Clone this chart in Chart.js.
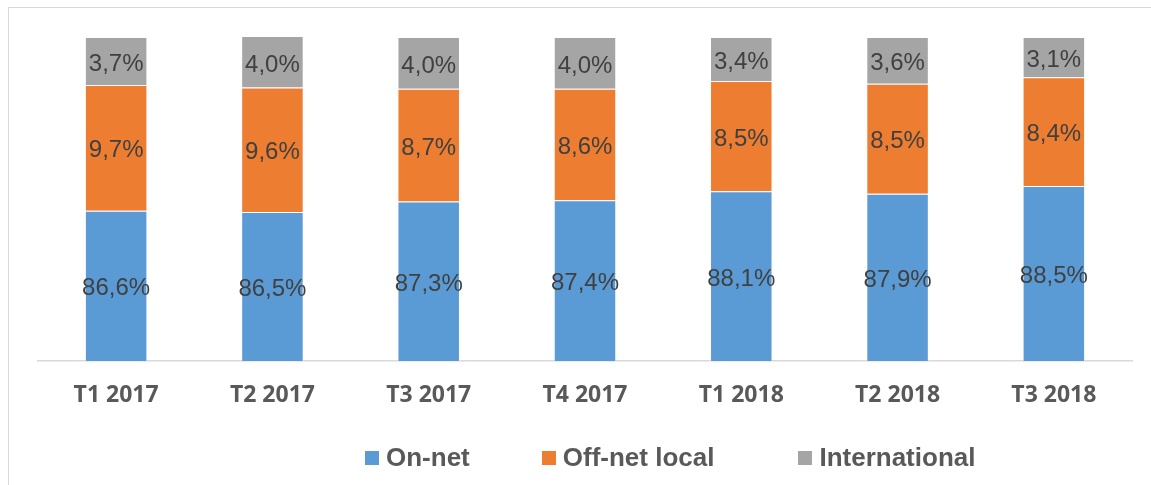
<!DOCTYPE html>
<html>
<head>
<meta charset="utf-8">
<script src="https://cdn.jsdelivr.net/npm/chart.js@4.4.1/dist/chart.umd.min.js"></script>
<style>
    html, body { margin: 0; padding: 0; background: #fff; overflow: hidden; }
    #wrap { position: relative; width: 1151px; height: 485px; }
    #frame { position: absolute; left: 8px; top: 7px; width: 1200px; height: 600px;
             border: 1.5px solid #d9d9d9; box-sizing: border-box; }
    #chart { position: absolute; left: 0; top: 0; }
    #legend { position: absolute; left: 365px; top: 442px; display: flex; align-items: center;
              font-family: "Liberation Sans", Arial, sans-serif; font-weight: bold; font-size: 26px;
              color: #595959; }
    #legend .item { display: flex; align-items: center; margin-right: 72px; }
    #legend .item:nth-child(2) { margin-right: 84px; }
    #legend .box { width: 14px; height: 14px; margin-right: 7px; }
</style>
</head>
<body>
<div id="wrap">
    <div id="frame"></div>
    <canvas id="chart" width="1151" height="485"></canvas>
    <div id="legend"></div>
</div>
<script>
const categories = ["T1 2017", "T2 2017", "T3 2017", "T4 2017", "T1 2018", "T2 2018", "T3 2018"];
const onNet = [86.6, 86.5, 87.3, 87.4, 88.1, 87.9, 88.5];
const offNetLocal = [9.7, 9.6, 8.7, 8.6, 8.5, 8.5, 8.4];
const international = [3.7, 4.0, 4.0, 4.0, 3.4, 3.6, 3.1];
const seriesNames = ["On-net", "Off-net local", "International"];
const seriesColors = ["#5b9bd5", "#ed7d31", "#a5a5a5"];

// labels in the middle of each visible segment
const segmentLabels = {
    id: "segmentLabels",
    afterDatasetsDraw(chart) {
        const ctx = chart.ctx;
        const area = chart.chartArea;
        ctx.save();
        ctx.font = "24px 'Liberation Sans', Arial, sans-serif";
        ctx.fillStyle = "#404040";
        ctx.textAlign = "center";
        ctx.textBaseline = "middle";
        chart.data.datasets.forEach((ds, i) => {
            chart.getDatasetMeta(i).data.forEach((bar, j) => {
                const p = bar.getProps(["x", "y", "base"], true);
                const top = Math.max(Math.min(p.y, p.base), area.top);
                const bottom = Math.min(Math.max(p.y, p.base), area.bottom);
                const txt = ds.data[j].toFixed(1).replace(".", ",") + "%";
                ctx.fillText(txt, p.x, (top + bottom) / 2 + 3);
            });
        });
        ctx.restore();
    }
};

const datasets = [onNet, offNetLocal, international].map((d, i) => ({
    label: seriesNames[i],
    data: d,
    backgroundColor: seriesColors[i],
    borderColor: "rgba(255,255,255,0.5)",
    borderWidth: 1,
    barPercentage: 0.4,
    categoryPercentage: 1.0
}));

const chart = new Chart(document.getElementById("chart"), {
    type: "bar",
    data: { labels: categories, datasets: datasets },
    options: {
        responsive: false,
        animation: false,
        layout: { padding: { left: 38, right: 19, top: 37, bottom: 0 } },
        plugins: {
            legend: { display: false },
            tooltip: { enabled: false }
        },
        scales: {
            x: {
                stacked: true,
                grid: { display: false, drawTicks: false },
                border: { display: true, color: "#d9d9d9", width: 1.5 },
                ticks: {
                    padding: 21,
                    color: "#595959",
                    font: { family: "'Open Sans', sans-serif", weight: "bold", size: 23 }
                },
                afterFit(scale) { scale.height = 124; }
            },
            y: {
                stacked: true,
                display: false,
                min: 75,
                max: 100
            }
        }
    },
    plugins: [segmentLabels]
});

const legend = document.getElementById("legend");
chart.data.datasets.forEach(ds => {
    const item = document.createElement("div");
    item.className = "item";
    const box = document.createElement("span");
    box.className = "box";
    box.style.background = ds.backgroundColor;
    const txt = document.createElement("span");
    txt.textContent = ds.label;
    item.appendChild(box);
    item.appendChild(txt);
    legend.appendChild(item);
});
</script>
</body>
</html>
